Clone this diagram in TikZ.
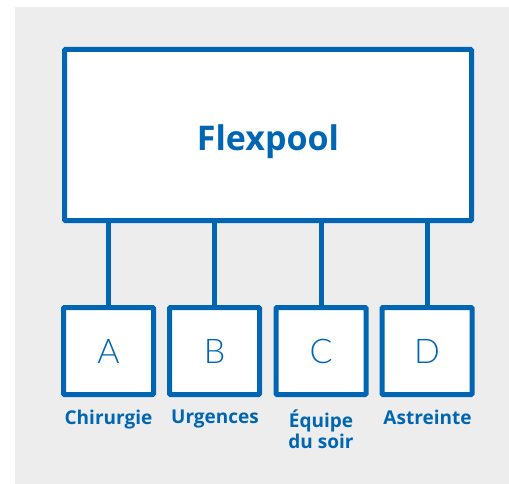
\documentclass[tikz,border=0pt]{standalone}
\usepackage{fontspec}
\setmainfont{Open Sans}
\newfontfamily\lightfont{Lato Light}
\definecolor{fpblue}{HTML}{0066B3}
\definecolor{fpgray}{HTML}{EDEDED}
\begin{document}
\begin{tikzpicture}[x=1pt,y=-1pt,
  frame/.style={draw=fpblue,line width=5pt,fill=white,rounded corners=1pt},
  link/.style={draw=fpblue,line width=5pt},
  sub/.style={frame,minimum width=90pt,minimum height=87pt,inner sep=0pt,
    font=\lightfont\fontsize{34}{34}\selectfont,text=fpblue},
  lab/.style={font=\bfseries\fontsize{19}{21}\selectfont,text=fpblue,align=center,inner sep=0pt,anchor=north}]
\useasboundingbox (0,0) rectangle (509,484);
\fill[fpgray] (15,7) rectangle (509,484);
\node[frame,minimum width=407pt,minimum height=171pt,inner sep=0pt,
  text height=32pt,text depth=0pt,
  font=\bfseries\fontsize{34}{34}\selectfont,text=fpblue] (pool) at (268,135) {Flexpool};
\node[sub] (a) at (108.5,351) {A};
\node[sub] (b) at (214.5,351) {B};
\node[sub] (c) at (321,351) {C};
\node[sub] (d) at (427,351) {D};
\foreach \n in {a,b,c,d}{
  \draw[link] (pool.south -| \n.north) -- (\n.north);
}
\node[lab] (la) at (108.5,410) {Chirurgie};
\node[lab] (lb) at (215,410) {Urgences};
\node[lab] (lc) at (321,410) {Équipe\\du soir};
\node[lab] (ld) at (427.5,410) {Astreinte};
\end{tikzpicture}
\end{document}
